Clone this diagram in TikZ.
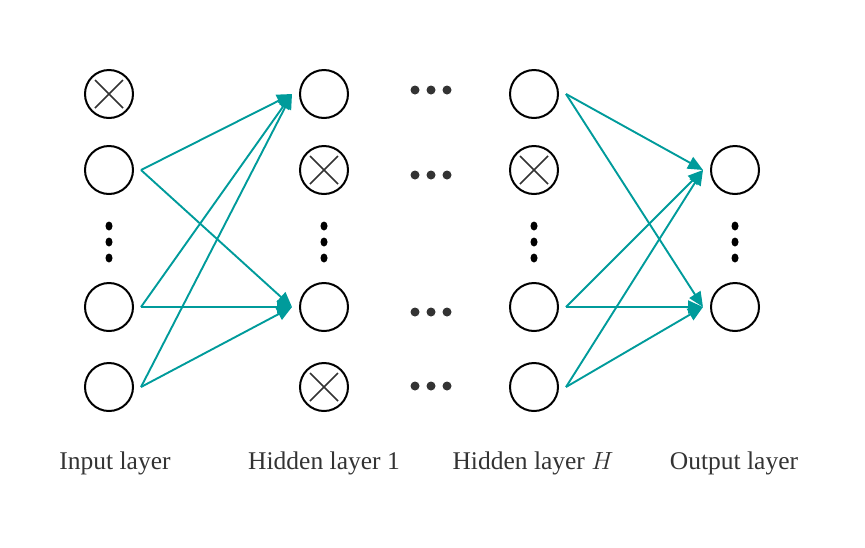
\documentclass[tikz,border=0pt]{standalone}
\usepackage{fontspec}
\setmainfont{Liberation Serif}
\usetikzlibrary{arrows.meta,calc,shapes.geometric}
\definecolor{tealc}{HTML}{009B9B}
\definecolor{dk}{HTML}{333333}
\begin{document}
\begin{tikzpicture}[x=1pt,y=-1pt,
  neuron/.style={circle,draw=black,line width=2pt,minimum size=48pt,inner sep=0pt,outer sep=8pt},
  dropped/.style={neuron,path picture={
      \draw[dk,line width=1.6pt]
        ($(path picture bounding box.south west)+(10,-10)$) -- ($(path picture bounding box.north east)+(-10,10)$)
        ($(path picture bounding box.north west)+(10,10)$) -- ($(path picture bounding box.south east)+(-10,-10)$);}},
  conn/.style={draw=tealc,line width=1.9pt,-{Triangle[length=15pt,width=13pt]}},
  hdot/.style={circle,fill=dk,inner sep=0pt,minimum size=9pt},
  vdot/.style={ellipse,fill=black,inner sep=0pt,minimum width=7pt,minimum height=9pt},
  lab/.style={text=dk,font=\fontsize{25.5}{30}\selectfont,anchor=base},
]
\useasboundingbox (0,0) rectangle (865,547);
% input layer
\node[dropped] (a1) at (109,94) {};
\node[neuron] (a2) at (109,170) {};
\node[neuron] (a3) at (109,307) {};
\node[neuron] (a4) at (109,387) {};
% hidden layer 1
\node[neuron] (b1) at (324,94) {};
\node[dropped] (b2) at (324,170) {};
\node[neuron] (b3) at (324,307) {};
\node[dropped] (b4) at (324,387) {};
% hidden layer H
\node[neuron] (c1) at (534,94) {};
\node[dropped] (c2) at (534,170) {};
\node[neuron] (c3) at (534,307) {};
\node[neuron] (c4) at (534,387) {};
% output layer
\node[neuron] (d1) at (735,170) {};
\node[neuron] (d2) at (735,307) {};
% vertical dots
\foreach \x/\n in {109/a,324/b,534/c,735/d}{
  \foreach \y/\k in {226/1,242/2,258/3}{
    \node[vdot] (v\n\k) at (\x,\y) {};
  }
}
% horizontal dots
\foreach \y/\n in {90/1,175/2,312/3,386/4}{
  \foreach \x/\k in {415/1,431/2,447/3}{
    \node[hdot] (h\n\k) at (\x,\y) {};
  }
}
% connections
\draw[conn] (a2.east) -- (b1.west);
\draw[conn] (a2.east) -- (b3.west);
\draw[conn] (a3.east) -- (b1.west);
\draw[conn] (a3.east) -- (b3.west);
\draw[conn] (a4.east) -- (b1.west);
\draw[conn] (a4.east) -- (b3.west);
\draw[conn] (c1.east) -- (d1.west);
\draw[conn] (c1.east) -- (d2.west);
\draw[conn] (c3.east) -- (d1.west);
\draw[conn] (c3.east) -- (d2.west);
\draw[conn] (c4.east) -- (d1.west);
\draw[conn] (c4.east) -- (d2.west);
% labels
\node[lab] (l1) at (115,469) {Input layer};
\node[lab] (l2) at (324,469) {Hidden layer 1};
\node[lab] (l3) at (533,469) {Hidden layer $H$};
\node[lab] (l4) at (734,469) {Output layer};
\end{tikzpicture}
\end{document}
